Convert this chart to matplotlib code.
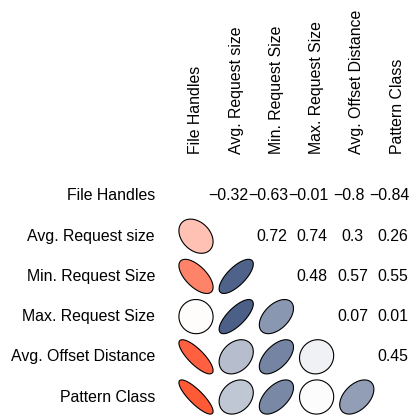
import numpy as np
import matplotlib
matplotlib.use("Agg")
import matplotlib.pyplot as plt
from matplotlib.patches import Polygon
from matplotlib.colors import LinearSegmentedColormap, Normalize

labels = ["File Handles", "Avg. Request size", "Min. Request Size",
          "Max. Request Size", "Avg. Offset Distance", "Pattern Class"]

# upper-triangle correlations, row by row
r_file = [-0.32, -0.63, -0.01, -0.80, -0.84]
r_avg = [0.72, 0.74, 0.30, 0.26]
r_min = [0.48, 0.57, 0.55]
r_max = [0.07, 0.01]
r_off = [0.45]

upper_rows = [r_file, r_avg, r_min, r_max, r_off]
n = len(labels)
M = np.eye(n)
for i, row in enumerate(upper_rows):
    for k, v in enumerate(row):
        j = i + 1 + k
        M[i, j] = v
        M[j, i] = v

plt.rcParams['font.family'] = ['Liberation Sans', 'DejaVu Sans']
FS = 11.4

cmap = LinearSegmentedColormap.from_list(
    "corr", [(1.0, 59/255, 17/255), (1, 1, 1), (12/255, 39/255, 93/255)])
norm = Normalize(-1, 1)

fig = plt.figure(figsize=(4.12, 4.15), dpi=100)
ax = fig.add_axes([0, 0, 1, 1])
unit = 40.2
ax.set_xlim(-196 / unit, (412 - 196) / unit)
ax.set_ylim((415 - 196) / unit, -196 / unit)
ax.axis('off')

def fmt(v):
    s = f"{v:.2f}".rstrip('0').rstrip('.')
    return s.replace('-', '\u2212')

k = np.linspace(0, 2 * np.pi, 99)
for i in range(n):
    for j in range(n):
        rho = M[i, j]
        if j < i:
            a = np.arccos(rho) / 2
            ex = 0.85 * np.cos(k + a) / 2
            ey = 0.85 * np.cos(k - a) / 2
            pts = np.column_stack([j + ex, i - ey])
            ax.add_patch(Polygon(pts, closed=True, facecolor=cmap(norm(rho)),
                                 edgecolor='black', linewidth=0.8))
        elif j > i:
            shift = 0.2 if rho < 0 else 0.11
            ax.text(j - shift, i, fmt(rho), ha='center', va='center',
                    fontsize=FS, color='black')

for i, lab in enumerate(labels):
    ax.text(-1.02, i, lab, ha='right', va='center', fontsize=FS)
    ax.text(i, -1.05, lab, ha='center', va='bottom', rotation=90, fontsize=FS)

fig.savefig("out.png", dpi=100)
